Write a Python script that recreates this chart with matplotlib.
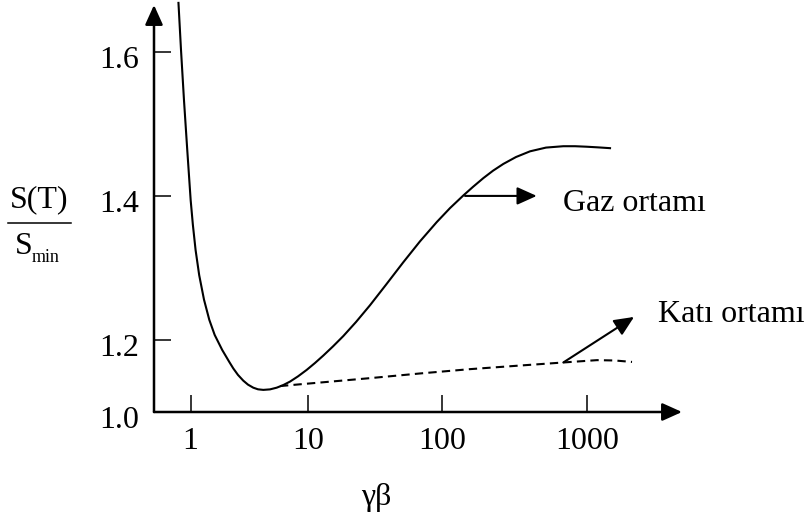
import numpy as np
import matplotlib
matplotlib.use('Agg')
import matplotlib.pyplot as plt
import matplotlib.transforms as mtransforms
from matplotlib.lines import Line2D

# values (gamma*beta, S(T)/S_min)
gaz_x = [0.787, 0.827, 0.877, 0.935, 1.000, 1.044, 1.101, 1.182, 1.299, 1.441,
         1.602, 1.859, 2.134, 2.308, 2.530, 2.809, 3.080, 3.418, 3.748, 4.158,
         4.743, 5.409, 6.122, 7.024, 8.217, 9.748, 11.28, 13.01, 15.37, 18.34,
         22.81, 29.02, 38.21, 51.42, 68.50, 91.3, 113.6, 140.4, 163.8, 193.0,
         225.2, 265.3, 324.6, 405.7, 523.3, 689.1, 830.2, 1000, 1196, 1448]
gaz_y = [1.668, 1.603, 1.533, 1.464, 1.394, 1.360, 1.325, 1.290, 1.256, 1.228,
         1.207, 1.172, 1.139, 1.121, 1.103, 1.087, 1.076, 1.0675, 1.063, 1.0614,
         1.0628, 1.0675, 1.0744, 1.0844, 1.0989, 1.1169, 1.1361, 1.1567, 1.1822, 1.2054,
         1.2249, 1.2482, 1.2767, 1.3079, 1.3369, 1.3636, 1.3831, 1.4006, 1.4126, 1.4247,
         1.4350, 1.4444, 1.4540, 1.4619, 1.4671, 1.4690, 1.4690, 1.4683, 1.4674, 1.4663]

kati_x = [5.771, 13.39, 29.02, 68.50, 156.1, 345.9, 689.1, 1178, 1567, 2053]
kati_y = [1.072, 1.083, 1.094, 1.107, 1.119, 1.129, 1.1375, 1.144, 1.143, 1.139]

x_ticks = [1, 10, 100, 1000]
x_labels = ['1', '10', '100', '1000']
y_ticks = [1.0, 1.2, 1.4, 1.6]
y_labels = ['1.0', '1.2', '1.4', '1.6']

# the hand drawn log axis has uneven decades, and 1.0-1.2 is squeezed
DEC_LOG = [-2, 0, 1, 2, 3, 5]
DEC_POS = [-44.0, 190.7, 308.0, 442.0, 586.7, 876.7]


def x_fwd(x):
    x = np.clip(np.asarray(x, dtype=float), 1e-12, None)
    return np.interp(np.log10(x), DEC_LOG, DEC_POS)


def x_inv(p):
    return 10 ** np.interp(np.asarray(p, dtype=float), DEC_POS, DEC_LOG)


def y_fwd(y):
    y = np.asarray(y, dtype=float)
    return np.where(y >= 1.2, y, 1.2 - (1.2 - y) / 2)


def y_inv(t):
    t = np.asarray(t, dtype=float)
    return np.where(t >= 1.2, t, 1.2 - 2 * (1.2 - t))


plt.rcParams['font.family'] = ['Liberation Serif', 'DejaVu Serif']
FS = 23

W, H = 806, 517
fig = plt.figure(figsize=(W / 100, H / 100), dpi=100)
ax = fig.add_axes([154 / W, (H - 412) / H, (682 - 154) / W, 412 / H])
ax.set_xscale('function', functions=(x_fwd, x_inv))
ax.set_yscale('function', functions=(y_fwd, y_inv))
ax.set_xlim(0.487, 4540)
ax.set_ylim(1.0, 1.672)

ax.plot(gaz_x, gaz_y, color='black', lw=1.5, solid_joinstyle='round')
ax.plot(kati_x, kati_y, color='black', lw=1.5, linestyle=(0, (4, 2.5)))

for s in ax.spines.values():
    s.set_visible(False)

ax.set_xticks(x_ticks)
ax.set_xticklabels(x_labels)
ax.set_yticks(y_ticks)
ax.set_yticklabels(y_labels)
ax.xaxis.set_minor_locator(matplotlib.ticker.NullLocator())
ax.yaxis.set_minor_locator(matplotlib.ticker.NullLocator())
ax.tick_params(axis='both', direction='in', length=12, width=1.1, labelsize=FS, colors='black')
ax.tick_params(axis='x', pad=11)
ax.tick_params(axis='y', pad=11)

# y labels sit a little below their ticks in the original
shift = mtransforms.ScaledTranslation(0, -5 / 100, fig.dpi_scale_trans)
for lab in ax.get_yticklabels():
    lab.set_transform(lab.get_transform() + shift)

# axis arrows
head = '-|>,head_length=0.6,head_width=0.27'
ax.annotate('', xy=(1, 0), xytext=(0, 0), xycoords='axes fraction',
            arrowprops=dict(arrowstyle=head, color='black', lw=1.8, mutation_scale=20,
                            shrinkA=0, shrinkB=0))
ax.annotate('', xy=(0, 1 - 5 / 412), xytext=(0, 0), xycoords='axes fraction',
            arrowprops=dict(arrowstyle=head, color='black', lw=1.8, mutation_scale=20,
                            shrinkA=0, shrinkB=0))

# curve labels with pointer arrows
ax.annotate('', xy=(451.4, 1.40), xytext=(144.2, 1.40),
            arrowprops=dict(arrowstyle=head, color='black', lw=1.5, mutation_scale=20,
                            shrinkA=0, shrinkB=0))
ax.text(689.1, 1.390, 'Gaz ortamı', fontsize=FS, ha='left', va='center')
ax.annotate('', xy=(2120, 1.232), xytext=(689.1, 1.1375),
            arrowprops=dict(arrowstyle=head, color='black', lw=1.5, mutation_scale=20,
                            shrinkA=0, shrinkB=0), annotation_clip=False)
ax.text(3102, 1.235, 'Katı ortamı', fontsize=FS, ha='left', va='center', clip_on=False)

# axis titles
fig.text(376 / W, 1 - 498 / H, 'γβ', fontsize=FS, ha='center', va='center')
fig.text(39 / W, 1 - 200 / H, 'S(T)', fontsize=FS, ha='center', va='center')
fig.add_artist(Line2D([8 / W, 71 / W], [1 - 223 / H, 1 - 223 / H], color='black', lw=1.1))
fig.text(15 / W, 1 - 246 / H, 'S', fontsize=FS, ha='left', va='center')
fig.text(32 / W, 1 - 258 / H, 'min', fontsize=13, ha='left', va='center')

fig.savefig('out.png', dpi=100)
